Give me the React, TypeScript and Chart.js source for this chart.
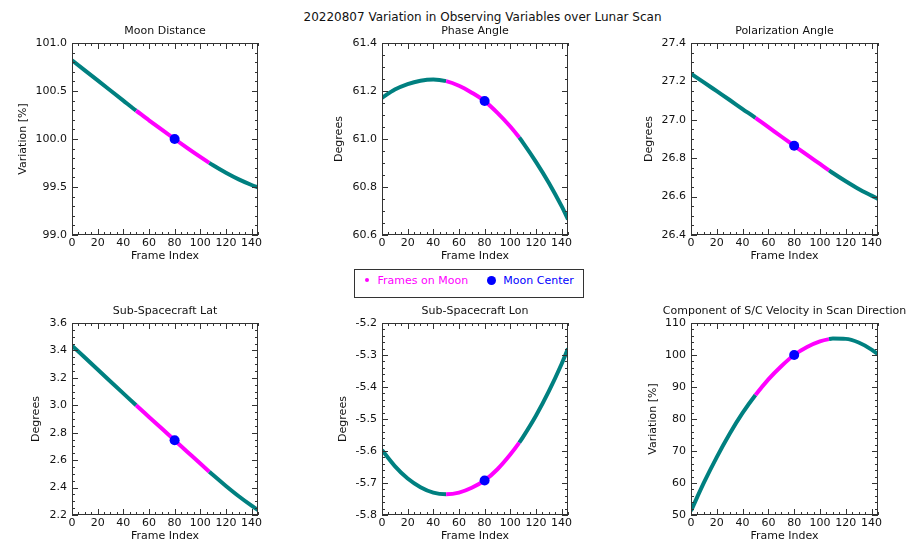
import React, { useEffect, useRef } from "react";
import { Chart, registerables } from "chart.js";

Chart.register(...registerables);

// ---------------- data ----------------
const FRAMES = [0, 10, 20, 30, 40, 50, 60, 70, 80, 90, 100, 107, 110, 120, 130, 140, 145];

const MOON_DISTANCE = [100.82, 100.715, 100.61, 100.505, 100.4, 100.295, 100.195, 100.097, 100.0, 99.905, 99.813, 99.751, 99.726, 99.648, 99.579, 99.521, 99.496];
const PHASE_ANGLE = [61.172, 61.206, 61.229, 61.243, 61.248, 61.241, 61.222, 61.193, 61.158, 61.109, 61.052, 61.006, 60.984, 60.905, 60.818, 60.72, 60.665];
const POLARIZATION_ANGLE = [27.24, 27.195, 27.149, 27.103, 27.056, 27.01, 26.962, 26.913, 26.865, 26.817, 26.77, 26.737, 26.723, 26.68, 26.64, 26.605, 26.588];
const SUB_SC_LAT = [3.435, 3.348, 3.261, 3.174, 3.087, 3.0, 2.915, 2.83, 2.745, 2.66, 2.575, 2.516, 2.491, 2.412, 2.337, 2.268, 2.236];
const SUB_SC_LON = [-5.597, -5.647, -5.686, -5.713, -5.73, -5.735, -5.73, -5.715, -5.692, -5.657, -5.611, -5.574, -5.556, -5.49, -5.414, -5.328, -5.28];
const SC_VELOCITY = [51.3, 60.1, 68.1, 75.4, 81.9, 87.5, 92.4, 96.5, 100.0, 102.5, 104.25, 104.95, 105.12, 105.04, 103.9, 101.7, 100.2];

const SERIES = [MOON_DISTANCE, PHASE_ANGLE, POLARIZATION_ANGLE, SUB_SC_LAT, SUB_SC_LON, SC_VELOCITY];

const MOON_CENTER_FRAME = 80;
const ON_MOON_START = 50;
const ON_MOON_END = 107;

const MAIN_TITLE = "20220807 Variation in Observing Variables over Lunar Scan";
const PANEL_TITLES = ["Moon Distance", "Phase Angle", "Polarization Angle", "Sub-Spacecraft Lat", "Sub-Spacecraft Lon", "Component of S/C Velocity in Scan Direction"];
const Y_LABELS = ["Variation [%]", "Degrees", "Degrees", "Degrees", "Degrees", "Variation [%]"];
const X_LABEL = "Frame Index";
const LEGEND_LABELS = ["Frames on Moon", "Moon Center"];

const X_MIN = 0;
const X_MAX = 145;
const X_MAJOR = 20;
const X_MINOR = 5;

const Y_MIN = [99.0, 60.6, 26.4, 2.2, -5.8, 50];
const Y_MAX = [101.0, 61.4, 27.4, 3.6, -5.2, 110];
const Y_MAJOR = [0.5, 0.2, 0.2, 0.2, 0.1, 10];
const Y_MINOR = [0.1, 0.05, 0.05, 0.05, 0.02, 2];
const Y_DECIMALS = [1, 1, 1, 1, 1, 0];

// ---------------- style / layout ----------------
const TEAL = "#008080";
const MAGENTA = "#ff00ff";
const BLUE = "#0000ff";
const TEXT_COLOR = "#111111";
const AXIS_COLOR = "#333333";
const FONT = '"DejaVu Sans"';
const MAJOR_LEN = 6;
const MINOR_LEN = 3;

const PLOT_H = 192;
const Y_AXIS_W = 72;
const X_AXIS_H = 30;
const PAD_TOP = 43;
const PAD_RIGHT = 36;

const PANEL_BOXES = [
  { left: 72, top: 43, width: 186, yTitleOffset: 49.3 },
  { left: 382, top: 43, width: 186, yTitleOffset: 42.7 },
  { left: 691, top: 43, width: 187, yTitleOffset: 41.7 },
  { left: 72, top: 323, width: 186, yTitleOffset: 36 },
  { left: 382, top: 323, width: 186, yTitleOffset: 39.3 },
  { left: 691, top: 323, width: 187, yTitleOffset: 38.3 },
];

const frameTicksPlugin = {
  id: "frameTicks",
  afterDraw(chart: any, _args: any, opts: any) {
    const { ctx, chartArea: a } = chart;
    const xs = chart.scales.x;
    const ys = chart.scales.y;
    ctx.save();
    ctx.strokeStyle = AXIS_COLOR;
    ctx.lineWidth = 1;
    ctx.beginPath();
    const nx = Math.round((xs.max - xs.min) / opts.xMinor);
    const kx = Math.round(opts.xMajor / opts.xMinor);
    for (let i = 0; i <= nx; i++) {
      const px = Math.round(xs.getPixelForValue(xs.min + i * opts.xMinor)) + 0.5;
      const len = i % kx === 0 ? MAJOR_LEN : MINOR_LEN;
      ctx.moveTo(px, a.bottom);
      ctx.lineTo(px, a.bottom - len);
      ctx.moveTo(px, a.top);
      ctx.lineTo(px, a.top + len);
    }
    const ny = Math.round((ys.max - ys.min) / opts.yMinor);
    const ky = Math.round(opts.yMajor / opts.yMinor);
    for (let i = 0; i <= ny; i++) {
      const py = Math.round(ys.getPixelForValue(ys.min + i * opts.yMinor)) + 0.5;
      const len = i % ky === 0 ? MAJOR_LEN : MINOR_LEN;
      ctx.moveTo(a.left, py);
      ctx.lineTo(a.left + len, py);
      ctx.moveTo(a.right, py);
      ctx.lineTo(a.right - len, py);
    }
    ctx.stroke();
    ctx.strokeRect(a.left + 0.5, a.top + 0.5, a.right - a.left - 1, a.bottom - a.top - 1);
    ctx.fillStyle = TEXT_COLOR;
    ctx.font = `11px ${FONT}`;
    ctx.textAlign = "center";
    ctx.textBaseline = "middle";
    ctx.fillText(opts.title, (a.left + a.right) / 2, a.top - 11.5);
    ctx.restore();
  },
};

function Panel({ idx }: { idx: number }) {
  const ref = useRef<HTMLCanvasElement | null>(null);
  const box = PANEL_BOXES[idx];
  const cw = Y_AXIS_W + box.width + PAD_RIGHT;
  const ch = PAD_TOP + PLOT_H + X_AXIS_H;

  useEffect(() => {
    if (!ref.current) return;
    const series = SERIES[idx];
    const centerVal = series[FRAMES.indexOf(MOON_CENTER_FRAME)];
    const dec = Y_DECIMALS[idx];
    const chart = new Chart(ref.current, {
      type: "line",
      data: {
        datasets: [
          {
            data: [{ x: MOON_CENTER_FRAME, y: centerVal }],
            showLine: false,
            pointRadius: 5,
            pointBackgroundColor: BLUE,
            pointBorderWidth: 0,
            pointBorderColor: BLUE,
            order: 1,
          } as any,
          {
            data: FRAMES.map((f, i) => ({ x: f, y: series[i] })),
            borderColor: TEAL,
            borderWidth: 4,
            pointRadius: 0,
            cubicInterpolationMode: "monotone",
            fill: false,
            order: 2,
            segment: {
              borderColor: (c: any) =>
                c.p0.parsed.x >= ON_MOON_START && c.p1.parsed.x <= ON_MOON_END ? MAGENTA : TEAL,
            },
          } as any,
        ],
      },
      options: {
        responsive: false,
        maintainAspectRatio: false,
        animation: false,
        events: [],
        devicePixelRatio: 1,
        layout: { padding: { top: PAD_TOP, right: PAD_RIGHT, left: 0, bottom: 0 } },
        plugins: {
          legend: { display: false },
          tooltip: { enabled: false },
          title: { display: false },
          frameTicks: {
            title: PANEL_TITLES[idx],
            xMinor: X_MINOR,
            xMajor: X_MAJOR,
            yMinor: Y_MINOR[idx],
            yMajor: Y_MAJOR[idx],
          },
        } as any,
        scales: {
          x: {
            type: "linear",
            min: X_MIN,
            max: X_MAX,
            afterFit: (s: any) => {
              s.height = X_AXIS_H;
            },
            grid: { display: false, drawTicks: false },
            border: { display: false },
            ticks: {
              stepSize: X_MAJOR,
              includeBounds: false,
              autoSkip: false,
              maxRotation: 0,
              padding: 2,
              color: TEXT_COLOR,
              font: { family: FONT, size: 11 },
              callback: (v: any) => String(v),
            },
            title: {
              display: true,
              text: X_LABEL,
              color: TEXT_COLOR,
              font: { family: FONT, size: 11, lineHeight: 1.2 },
              padding: { top: 0, bottom: 2.4 },
            },
          },
          y: {
            type: "linear",
            min: Y_MIN[idx],
            max: Y_MAX[idx],
            afterFit: (s: any) => {
              s.width = Y_AXIS_W;
            },
            grid: { display: false, drawTicks: false },
            border: { display: false },
            ticks: {
              stepSize: Y_MAJOR[idx],
              includeBounds: false,
              autoSkip: false,
              padding: 5,
              color: TEXT_COLOR,
              font: { family: FONT, size: 11 },
              callback: (v: any) => Number(v).toFixed(dec),
            },
            title: {
              display: true,
              text: Y_LABELS[idx],
              color: TEXT_COLOR,
              font: { family: FONT, size: 11, lineHeight: 1.2 },
              padding: { top: Y_AXIS_W - box.yTitleOffset - 6.6, bottom: 0 },
            },
          },
        },
      } as any,
      plugins: [frameTicksPlugin],
    });
    return () => chart.destroy();
  }, [idx]);

  return (
    <canvas
      ref={ref}
      width={cw}
      height={ch}
      style={{
        position: "absolute",
        left: box.left - Y_AXIS_W,
        top: box.top - PAD_TOP,
        width: cw,
        height: ch,
        display: "block",
      }}
    />
  );
}

export default function App() {
  const textBase: React.CSSProperties = {
    position: "absolute",
    fontFamily: FONT,
    fontSize: 11,
    lineHeight: "11px",
    whiteSpace: "nowrap",
    transform: "translateY(-50%)",
  };
  return (
    <div
      style={{
        position: "absolute",
        left: 0,
        top: 0,
        width: 924,
        height: 542,
        overflow: "hidden",
        background: "#ffffff",
      }}
    >
      <div
        style={{
          position: "absolute",
          left: 482.5,
          top: 17,
          transform: "translate(-50%, -50%)",
          fontFamily: FONT,
          fontSize: 12,
          lineHeight: "12px",
          whiteSpace: "nowrap",
          color: TEXT_COLOR,
        }}
      >
        {MAIN_TITLE}
      </div>
      {PANEL_BOXES.map((_, i) => (
        <Panel key={i} idx={i} />
      ))}
      <div
        style={{
          position: "absolute",
          left: 354,
          top: 269,
          width: 230,
          height: 29,
          boxSizing: "border-box",
          border: "1px solid #333333",
          background: "#ffffff",
        }}
      />
      <div
        style={{
          position: "absolute",
          left: 366.7 - 2,
          top: 280 - 2,
          width: 4,
          height: 4,
          borderRadius: "50%",
          background: MAGENTA,
        }}
      />
      <div style={{ ...textBase, left: 377.5, top: 280, color: MAGENTA }}>{LEGEND_LABELS[0]}</div>
      <div
        style={{
          position: "absolute",
          left: 491.3 - 4.5,
          top: 280 - 4.5,
          width: 9,
          height: 9,
          borderRadius: "50%",
          background: BLUE,
        }}
      />
      <div style={{ ...textBase, left: 503.3, top: 280, color: BLUE }}>{LEGEND_LABELS[1]}</div>
    </div>
  );
}
